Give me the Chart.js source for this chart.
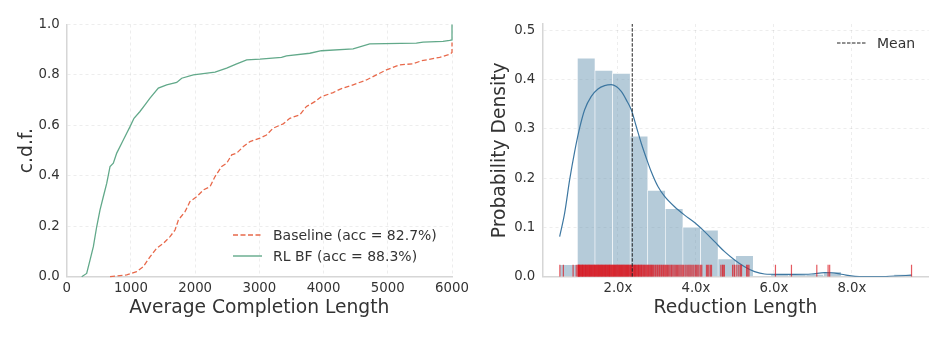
<!DOCTYPE html>
<html>
<head>
<meta charset="utf-8">
<script src="https://cdn.jsdelivr.net/npm/chart.js@4.4.1/dist/chart.umd.min.js"></script>
<style>
  body { margin: 0; background: #fff; font-family: "DejaVu Sans", sans-serif; }
  .panel { position: absolute; top: 0; }
  .legend-row { position: absolute; font-size: 14px; color: #333; line-height: 18px; white-space: nowrap; }
  .legend-row svg { position: absolute; left: 0; top: 0; }
  .legend-row span { position: absolute; }
</style>
</head>
<body>
<div class="panel" style="left:470px;width:478px;height:338px"><canvas id="reductionChart" width="478" height="338"></canvas></div>
<div class="panel" style="left:0;width:478px;height:338px"><canvas id="cdfChart" width="478" height="338"></canvas></div>

<div class="legend-row" style="left:233px;top:226px;width:220px;height:18px">
  <svg width="30" height="18"><line x1="0" y1="9" x2="29" y2="9" stroke="#e8694b" stroke-width="1.4" stroke-dasharray="5,2.5"/></svg>
  <span style="left:40px;top:0">Baseline (acc = 82.7%)</span>
</div>
<div class="legend-row" style="left:233px;top:247px;width:220px;height:18px">
  <svg width="30" height="18"><line x1="0" y1="9" x2="29" y2="9" stroke="#62a98a" stroke-width="1.4"/></svg>
  <span style="left:40px;top:0">RL BF (acc = 88.3%)</span>
</div>
<div class="legend-row" style="left:837px;top:34px;width:90px;height:18px">
  <svg width="30" height="18"><line x1="0" y1="9" x2="29" y2="9" stroke="#222" stroke-width="1" stroke-dasharray="3.5,1.5"/></svg>
  <span style="left:40px;top:0">Mean</span>
</div>

<script>
// --- left panel: empirical CDF of completion length ---
const baselineLen = [675, 934, 1090, 1193, 1297, 1401, 1505, 1609, 1687, 1739, 1843, 1920, 2024, 2128, 2232, 2310, 2414, 2491, 2569, 2647, 2751, 2855, 3010, 3111, 3215, 3371, 3474, 3630, 3734, 3864, 3967, 4149, 4252, 4460, 4667, 4823, 4979, 5186, 5393, 5523, 5808, 5964, 6000, 6000];
const baselineCdf = [0, 0.007, 0.02, 0.04, 0.079, 0.113, 0.132, 0.159, 0.185, 0.225, 0.258, 0.298, 0.317, 0.344, 0.357, 0.397, 0.437, 0.45, 0.483, 0.49, 0.516, 0.536, 0.549, 0.562, 0.589, 0.606, 0.628, 0.642, 0.675, 0.694, 0.714, 0.73, 0.743, 0.761, 0.78, 0.8, 0.82, 0.84, 0.844, 0.856, 0.87, 0.882, 0.889, 0.929];

const rlbfLen = [233, 311, 363, 415, 467, 519, 570, 623, 675, 726, 779, 856, 934, 986, 1048, 1141, 1219, 1297, 1427, 1557, 1713, 1791, 1972, 2310, 2491, 2647, 2803, 3010, 3345, 3423, 3786, 3967, 4460, 4719, 5445, 5549, 5860, 5964, 6000, 6000];
const rlbfCdf = [0, 0.013, 0.066, 0.119, 0.198, 0.265, 0.317, 0.37, 0.437, 0.45, 0.49, 0.529, 0.569, 0.595, 0.628, 0.655, 0.681, 0.708, 0.748, 0.761, 0.77, 0.787, 0.8, 0.811, 0.827, 0.844, 0.86, 0.863, 0.87, 0.876, 0.886, 0.896, 0.903, 0.923, 0.926, 0.93, 0.933, 0.937, 0.939, 1.0];

const lengthTicks = [0, 1000, 2000, 3000, 4000, 5000, 6000];
const cdfTicks = [0, 0.2, 0.4, 0.6, 0.8, 1.0];

// --- right panel: reduction ratio histogram, KDE, rug and mean ---
const binCenters = [0.735, 1.186, 1.637, 2.088, 2.539, 2.99, 3.441, 3.892, 4.343, 4.794, 5.245, 5.696, 6.147, 6.598, 7.049, 7.5, 7.951, 8.402, 8.853, 9.304];
const binDensity = [0.025, 0.4445, 0.4195, 0.4134, 0.286, 0.176, 0.139, 0.101, 0.095, 0.0366, 0.0435, 0, 0.0055, 0.0055, 0.0055, 0.011, 0, 0, 0, 0.0055];

const kdeX = [0.505, 0.633, 0.762, 0.89, 1.018, 1.146, 1.316, 1.487, 1.658, 1.829, 1.957, 2.085, 2.214, 2.342, 2.47, 2.598, 2.726, 2.855, 3.026, 3.197, 3.453, 3.71, 3.966, 4.223, 4.479, 4.735, 4.992, 5.248, 5.505, 5.761, 6.1, 6.53, 6.96, 7.3, 7.47, 7.73, 8.08, 8.67, 9.1, 9.53];
const kdeY = [0.0813, 0.129, 0.197, 0.254, 0.302, 0.339, 0.366, 0.381, 0.388, 0.39, 0.386, 0.376, 0.359, 0.339, 0.305, 0.271, 0.241, 0.213, 0.183, 0.163, 0.142, 0.125, 0.11, 0.0915, 0.0711, 0.0508, 0.034, 0.0203, 0.0102, 0.0055, 0.0049, 0.0049, 0.0055, 0.0081, 0.008, 0.005, 0.0008, 0, 0.0014, 0.003];

const rugX = [
    0.51, 0.6, 0.85, 0.93,
    0.97, 0.98, 0.99, 1.0, 1.01, 1.02, 1.04, 1.05, 1.07, 1.08, 1.09, 1.1, 1.12, 1.13, 1.15, 1.16, 1.17, 1.19, 1.2, 1.22, 1.23, 1.25, 1.26, 1.27, 1.29, 1.3,
    1.32, 1.33, 1.35, 1.36, 1.38, 1.39, 1.4, 1.42, 1.43, 1.45, 1.46, 1.48, 1.49, 1.5, 1.52, 1.53, 1.55, 1.56, 1.58, 1.59, 1.6, 1.62, 1.63, 1.65, 1.66, 1.68,
    1.69, 1.7, 1.72, 1.73, 1.75, 1.76, 1.78, 1.79, 1.8, 1.82, 1.83, 1.85, 1.86, 1.88, 1.89, 1.91, 1.92, 1.94, 1.95, 1.97, 1.98, 2.0, 2.01, 2.03, 2.04, 2.06,
    2.07, 2.09, 2.1, 2.12, 2.13, 2.15, 2.16, 2.18, 2.19, 2.21, 2.22, 2.24, 2.25, 2.27, 2.28, 2.3, 2.32, 2.33, 2.35, 2.36, 2.38, 2.4, 2.42, 2.43, 2.45, 2.46,
    2.48, 2.5, 2.52, 2.53, 2.55, 2.57, 2.59, 2.6, 2.62, 2.64, 2.66, 2.68, 2.7, 2.72, 2.74, 2.76, 2.78, 2.8, 2.82, 2.84, 2.86, 2.88, 2.9, 2.92, 2.95, 2.97,
    3.0, 3.02, 3.05, 3.07, 3.1, 3.12, 3.15, 3.17, 3.2, 3.22, 3.25, 3.27, 3.3, 3.33, 3.36, 3.38, 3.41, 3.44, 3.47, 3.5, 3.53, 3.56, 3.59, 3.62, 3.65, 3.68,
    3.72, 3.75, 3.79, 3.82, 3.85, 3.88, 3.92, 3.95, 3.99, 4.02, 4.05, 4.08, 4.12, 4.15, 4.27, 4.3, 4.33, 4.37, 4.4, 4.64, 4.68, 4.7, 4.73,
    4.94, 4.98, 5.0, 5.05, 5.1, 5.14, 5.17, 5.3, 5.33, 5.36,
    6.04, 6.45, 7.1, 7.39, 7.43, 9.53
];

const meanReduction = 2.367;
const reductionTicks = [2, 4, 6, 8];
const densityTicks = [0, 0.1, 0.2, 0.3, 0.4, 0.5];

const FONT = "'DejaVu Sans', sans-serif";
const TEXT = '#333';
const GRID = 'rgba(0,0,0,0.07)';
const SPINE = '#d6d6d6';

Chart.defaults.font.family = FONT;
Chart.defaults.color = TEXT;
Chart.defaults.animation = false;

const toPoints = (xs, ys) => xs.map((x, i) => ({ x: x, y: ys[i] }));
const fixTicks = (values) => (scale) => { scale.ticks = values.map(v => ({ value: v })); };

function axisBase(title, titlePad) {
    return {
        type: 'linear',
        grid: { color: GRID, drawTicks: false },
        border: { display: true, color: SPINE, width: 1.5, dash: [3, 3] },
        ticks: { font: { size: 13.3 }, color: TEXT },
        title: { display: true, text: title, font: { size: 18.7 }, color: TEXT, padding: titlePad }
    };
}

// left: two cdf curves
const cdfX = axisBase('Average Completion Length', { top: 0, bottom: 18.3 });
cdfX.min = 0; cdfX.max = 6000;
cdfX.ticks.padding = 4.3;
cdfX.ticks.callback = (v) => String(v);
cdfX.afterBuildTicks = fixTicks(lengthTicks);
cdfX.afterFit = (scale) => { scale.height = 61.3; };

const cdfY = axisBase('c.d.f.', { top: 15.8, bottom: 0 });
cdfY.min = 0; cdfY.max = 1.0;
cdfY.ticks.padding = 7;
cdfY.ticks.callback = (v) => v.toFixed(1);
cdfY.afterBuildTicks = fixTicks(cdfTicks);
cdfY.afterFit = (scale) => { scale.width = 66.7; };

new Chart(document.getElementById('cdfChart'), {
    type: 'line',
    data: {
        datasets: [
            {
                label: 'Baseline (acc = 82.7%)',
                data: toPoints(baselineLen, baselineCdf),
                borderColor: '#e8694b',
                borderWidth: 1.3,
                borderDash: [5, 2.5],
                pointRadius: 0,
                tension: 0,
                clip: 3
            },
            {
                label: 'RL BF (acc = 88.3%)',
                data: toPoints(rlbfLen, rlbfCdf),
                borderColor: '#62a98a',
                borderWidth: 1.3,
                pointRadius: 0,
                tension: 0,
                clip: 3
            }
        ]
    },
    options: {
        responsive: false,
        layout: { padding: { left: 0, right: 26, top: 24.5, bottom: 0 } },
        plugins: { legend: { display: false }, tooltip: { enabled: false } },
        scales: { x: cdfX, y: cdfY }
    }
});

// right: histogram + kde + rug + mean
const redX = axisBase('Reduction Length', { top: 0, bottom: 18.3 });
redX.min = 0.06; redX.max = 9.97;
redX.offset = false;
redX.grid.offset = false;
redX.ticks.padding = 4.3;
redX.ticks.callback = (v) => v.toFixed(1) + 'x';
redX.afterBuildTicks = fixTicks(reductionTicks);
redX.afterFit = (scale) => { scale.height = 61.3; };

const densityMax = 0.513;
const redY = axisBase('Probability Density', { top: 19.3, bottom: 0 });
redY.min = 0; redY.max = densityMax;
redY.ticks.padding = 7;
redY.ticks.callback = (v) => v.toFixed(1);
redY.afterBuildTicks = fixTicks(densityTicks);
redY.afterFit = (scale) => { scale.width = 72.3; };

new Chart(document.getElementById('reductionChart'), {
    type: 'bar',
    data: {
        datasets: [
            {
                type: 'line',
                label: 'Mean',
                data: [{ x: meanReduction, y: 0 }, { x: meanReduction, y: densityMax }],
                borderColor: '#222',
                borderWidth: 1,
                borderDash: [3.5, 1.5],
                pointRadius: 0,
                order: 1
            },
            {
                type: 'scatter',
                label: 'rug',
                data: rugX.map(x => ({ x: x, y: 0.0123 })),
                pointStyle: 'line',
                rotation: 90,
                radius: 6,
                borderColor: 'rgba(218,20,28,0.7)',
                borderWidth: 1.2,
                order: 2
            },
            {
                type: 'line',
                label: 'kde',
                data: toPoints(kdeX, kdeY),
                borderColor: '#3d77a1',
                borderWidth: 1.2,
                pointRadius: 0,
                cubicInterpolationMode: 'monotone',
                order: 3
            },
            {
                type: 'bar',
                label: 'hist',
                data: toPoints(binCenters, binDensity),
                backgroundColor: 'rgba(107,151,179,0.5)',
                borderColor: '#ffffff',
                borderWidth: { top: 1, left: 0.6, right: 0.6, bottom: 0 },
                borderSkipped: false,
                barPercentage: 1,
                categoryPercentage: 1,
                order: 4
            }
        ]
    },
    options: {
        responsive: false,
        layout: { padding: { left: 0, right: 19.3, top: 24, bottom: 0 } },
        plugins: { legend: { display: false }, tooltip: { enabled: false } },
        scales: { x: redX, y: redY }
    }
});
</script>
</body>
</html>
